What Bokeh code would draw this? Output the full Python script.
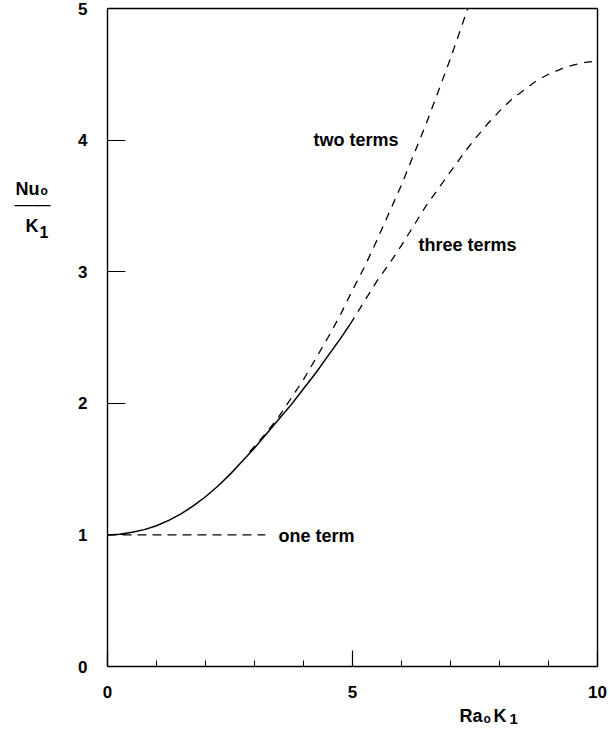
from bokeh.plotting import figure
from bokeh.models import Range1d, FixedTicker, Label, LinearAxis
from bokeh.embed import file_html
from bokeh.resources import INLINE

# --- data ---
solid_x = [0.0, 0.25, 0.5, 0.75, 1.0, 1.25, 1.5, 1.75, 2.0, 2.25, 2.5, 2.75,
           3.0, 3.25, 3.5, 3.75, 4.0, 4.25, 4.5, 4.75, 4.95]
solid_y = [1.0, 1.005, 1.02, 1.04, 1.07, 1.11, 1.16, 1.22, 1.29, 1.37, 1.46, 1.56,
           1.66, 1.77, 1.88, 1.99, 2.11, 2.23, 2.36, 2.49, 2.6]

one_x = [0.0, 3.22]
one_y = [1.0, 1.0]

two_x = [2.9, 3.25, 3.5, 3.75, 4.0, 4.25, 4.5, 4.75, 5.0, 5.25, 5.5, 5.75,
         6.0, 6.25, 6.5, 6.75, 7.0, 7.25, 7.35]
two_y = [1.63, 1.78, 1.9, 2.04, 2.18, 2.34, 2.5, 2.67, 2.86, 3.04, 3.24, 3.45,
         3.66, 3.89, 4.12, 4.37, 4.62, 4.89, 5.0]

three_x = [4.95, 5.25, 5.5, 5.75, 6.0, 6.25, 6.5, 6.75, 7.0, 7.25, 7.5, 7.75,
           8.0, 8.25, 8.5, 8.75, 9.0, 9.25, 9.5, 9.75, 9.95]
three_y = [2.6, 2.78, 2.93, 3.06, 3.2, 3.35, 3.5, 3.63, 3.76, 3.89, 4.01, 4.12,
           4.22, 4.31, 4.38, 4.45, 4.5, 4.54, 4.57, 4.59, 4.6]

x_major = [0, 5, 10]
x_minor = [1, 2, 3, 4, 6, 7, 8, 9]
y_major = [0, 1, 2, 3, 4, 5]
X_MIN, X_MAX = 0, 10
Y_MIN, Y_MAX = 0, 5

# --- layout (pixels) ---
W, H = 610, 729
FL, FR, FT, FB = 107, 597, 8, 666
xs = (FR - FL) / (X_MAX - X_MIN)
ys = (FB - FT) / (Y_MAX - Y_MIN)

def dx(px):
    return X_MIN + (px - FL) / xs

def dy(py):
    return Y_MIN + (FB - py) / ys

FONT = "Liberation Sans"

p = figure(width=W, height=H, output_backend="svg", toolbar_location=None,
           x_range=Range1d(dx(0), dx(W)), y_range=Range1d(dy(H), dy(0)),
           min_border=0)
p.grid.visible = False
p.outline_line_color = None
p.background_fill_color = "white"
p.border_fill_color = "white"

def style_axis(ax):
    ax.axis_line_color = "black"
    ax.axis_line_width = 1.4
    ax.major_tick_line_color = "black"
    ax.major_tick_line_width = 1.2
    ax.minor_tick_line_color = "black"
    ax.minor_tick_line_width = 1.0
    ax.major_tick_out = 0
    ax.minor_tick_out = 0
    ax.major_label_text_font = FONT
    ax.major_label_text_font_size = "17px"
    ax.major_label_text_font_style = "bold"
    ax.major_label_text_color = "black"

xa = p.xaxis[0]
ya = p.yaxis[0]
style_axis(xa)
style_axis(ya)

xa.fixed_location = Y_MIN
xa.bounds = (X_MIN, X_MAX)
xa.ticker = FixedTicker(ticks=x_major, minor_ticks=x_minor)
xa.major_tick_in = 16
xa.minor_tick_in = 6
xa.major_label_standoff = 19

ya.fixed_location = X_MIN
ya.bounds = (Y_MIN, Y_MAX)
ya.ticker = FixedTicker(ticks=y_major, minor_ticks=[])
ya.major_tick_in = 18
ya.minor_tick_in = 0
ya.major_label_standoff = 20

# frame lines on top and right
top_ax = LinearAxis(fixed_location=Y_MAX, bounds=(X_MIN, X_MAX),
                    ticker=FixedTicker(ticks=[], minor_ticks=[]))
right_ax = LinearAxis(fixed_location=X_MAX, bounds=(Y_MIN, Y_MAX),
                      ticker=FixedTicker(ticks=[], minor_ticks=[]))
for ax in (top_ax, right_ax):
    style_axis(ax)
    ax.major_tick_in = 0
    ax.minor_tick_in = 0
p.add_layout(top_ax, "above")
p.add_layout(right_ax, "right")

p.line(solid_x, solid_y, line_color="black", line_width=1.5)
p.line(one_x, one_y, line_color="black", line_width=1.3, line_dash="9 6")
p.line(two_x, two_y, line_color="black", line_width=1.3, line_dash="8 7")
p.line(three_x, three_y, line_color="black", line_width=1.3, line_dash="8 7")

SHIFT = 6  # rendered baseline sits this many px below the requested one

def plab(px, py, t, size="18px", style="bold"):
    p.add_layout(Label(x=dx(px), y=dy(py - SHIFT), text=t, text_font=FONT,
                       text_font_size=size, text_font_style=style,
                       text_color="black", text_align="left",
                       text_baseline="alphabetic"))

# curve annotations
plab(278, 541, "one term")
plab(313, 145, "two terms")
plab(418, 250, "three terms")

# y-axis title: Nu_o over K_1
plab(15, 194, "Nu", size="18px")
plab(40, 196, "o", size="12px")
plab(14, 209, "\u2014\u2014", size="18px", style="normal")
plab(25, 231, "K", size="18px")
plab(39, 237, "1", size="16px")

# x-axis title: Ra_o K_1
plab(459, 721, "Ra", size="18px")
plab(483, 724, "o", size="12px")
plab(493, 721, "K", size="18px")
plab(509, 724, "1", size="15px")

open("out.html", "w").write(file_html(p, INLINE))
